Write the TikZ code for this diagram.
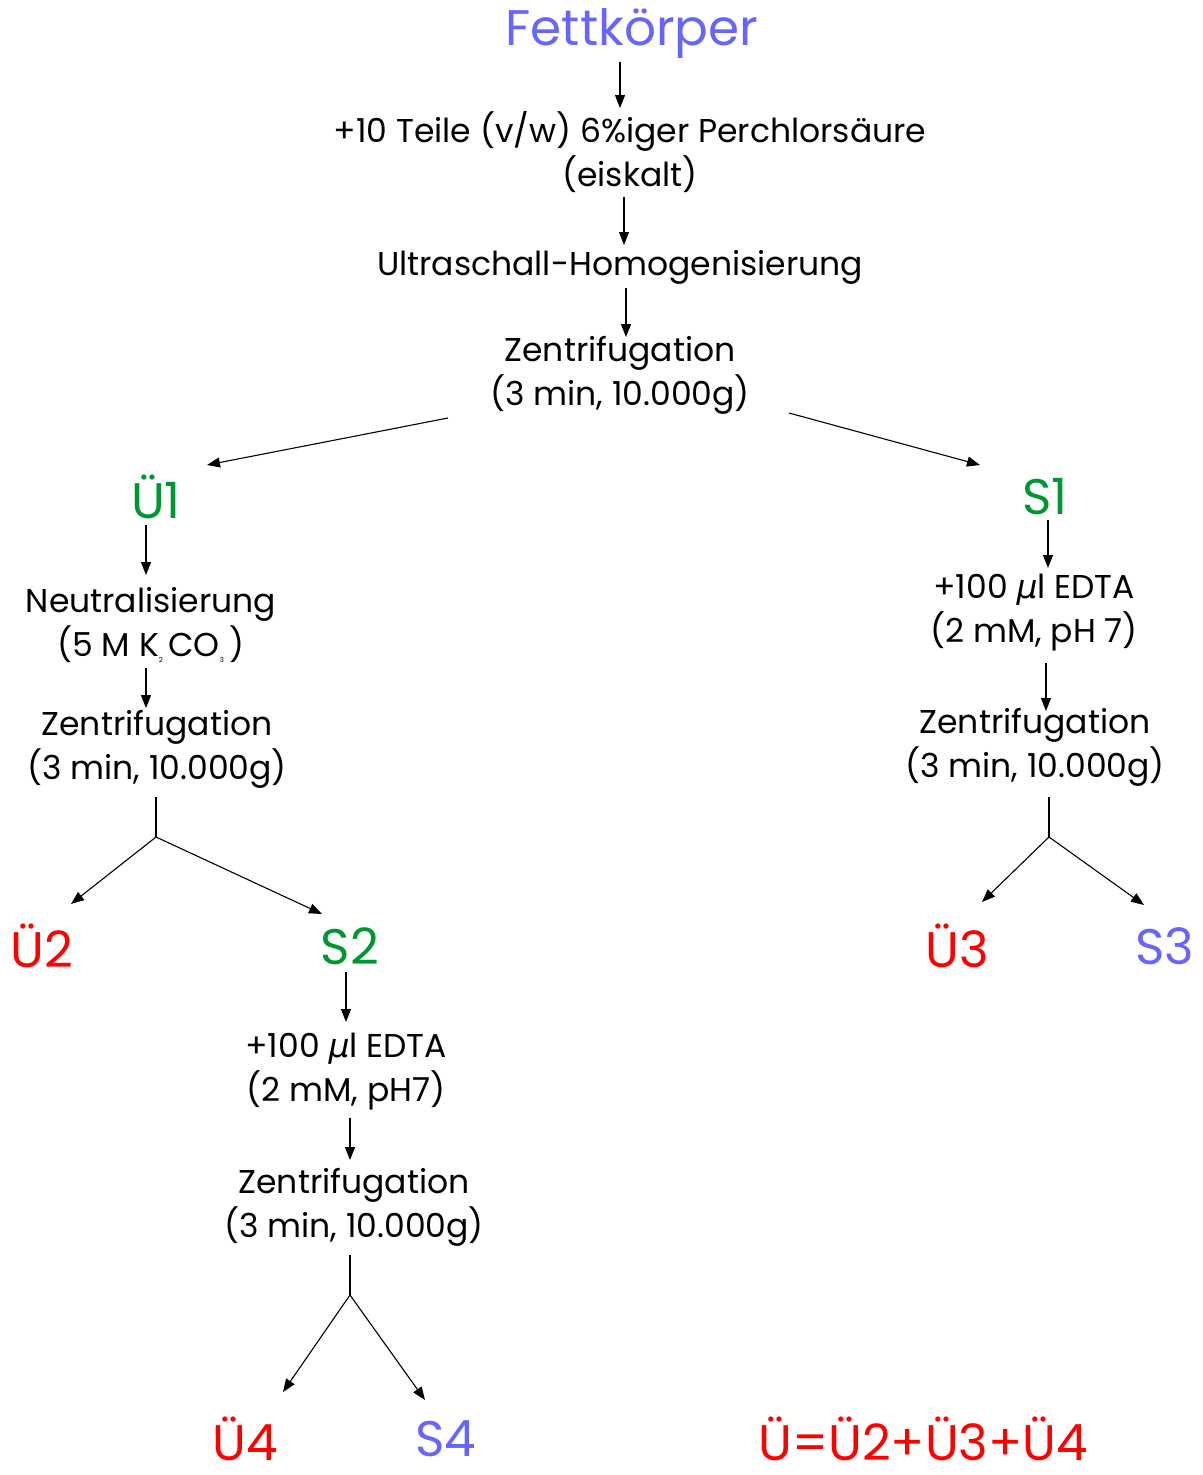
\documentclass[tikz,border=0pt]{standalone}
\usepackage{fontspec}
\setmainfont{Poppins}
\newfontfamily\greekfont{DejaVu Sans}
\usetikzlibrary{arrows.meta}
\definecolor{fblue}{RGB}{102,102,255}
\definecolor{fgreen}{RGB}{0,150,50}
\definecolor{fred}{RGB}{255,0,0}
\newcommand{\tinysub}[1]{\raisebox{-0.35ex}{\fontsize{7}{7}\selectfont #1}}
\newcommand{\mymu}{{\greekfont\itshape μ}}
\begin{document}
\begin{tikzpicture}[x=1pt,y=-1pt,
  txt/.style={inner sep=0pt,align=center,font=\fontsize{33}{44}\selectfont},
  big/.style={inner sep=0pt,font=\fontsize{50}{56}\selectfont},
  arr/.style={-{Triangle[length=13pt,width=10pt]},line width=1.1pt},
  ln/.style={line width=1.1pt}]
\useasboundingbox (0,0) rectangle (1202,1475);
% top chain
\node[big,text=fblue] (fett) at (632,33) {Fettkörper};
\node[txt] (perch) at (630,152) {+10 Teile (v/w) 6\%iger Perchlorsäure\\(eiskalt)};
\node[txt] (ultra) at (620,267) {Ultraschall-Homogenisierung};
\node[txt] (z0) at (620,375) {Zentrifugation\\(3 min, 10.000g)};
\coordinate (a1s) at (620,62); \coordinate (a1e) at (620,108);
\coordinate (a2s) at (624,197); \coordinate (a2e) at (624,245);
\coordinate (a3s) at (626,288); \coordinate (a3e) at (626,337);
\draw[arr] (a1s) -- (a1e);
\draw[arr] (a2s) -- (a2e);
\draw[arr] (a3s) -- (a3e);
% split
\node[big,text=fgreen] (u1) at (156,497) {Ü1};
\node[big,text=fgreen] (s1) at (1045,497) {S1};
\coordinate (b1s) at (448,418); \coordinate (b1e) at (207,465);
\coordinate (b2s) at (789,413); \coordinate (b2e) at (980,465);
\draw[arr] (b1s) -- (b1e);
\draw[arr] (b2s) -- (b2e);
% left branch
\node[txt] (neut) at (151,625) {Neutralisierung\\(5 M K\tinysub{2}\,CO\tinysub{3}\,)};
\node[txt] (z1) at (157,749) {Zentrifugation\\(3 min, 10.000g)};
\coordinate (c1s) at (146,525); \coordinate (c1e) at (146,575);
\coordinate (c2s) at (146,668); \coordinate (c2e) at (146,708);
\draw[arr] (c1s) -- (c1e);
\draw[arr] (c2s) -- (c2e);
\coordinate (j1t) at (156,797); \coordinate (j1) at (156,837);
\coordinate (j1a) at (71,904); \coordinate (j1b) at (322,914);
\draw[ln] (j1t) -- (j1);
\draw[arr] (j1) -- (j1a);
\draw[arr] (j1) -- (j1b);
\node[big,text=fred] (u2) at (42,946) {Ü2};
\node[big,text=fgreen] (s2) at (350,946) {S2};
\node[txt] (edta2) at (346,1072) {+100 \mymu l EDTA\\(2 mM, pH7)};
\node[txt] (z2) at (354,1207) {Zentrifugation\\(3 min, 10.000g)};
\coordinate (d1s) at (346,972); \coordinate (d1e) at (346,1022);
\coordinate (d2s) at (350,1118); \coordinate (d2e) at (350,1160);
\draw[arr] (d1s) -- (d1e);
\draw[arr] (d2s) -- (d2e);
\coordinate (j2t) at (350,1255); \coordinate (j2) at (350,1295);
\coordinate (j2a) at (283,1392); \coordinate (j2b) at (425,1400);
\draw[ln] (j2t) -- (j2);
\draw[arr] (j2) -- (j2a);
\draw[arr] (j2) -- (j2b);
\node[big,text=fred] (u4) at (245,1439) {Ü4};
\node[big,text=fblue] (s4) at (446,1439) {S4};
\node[big,text=fred] (sum) at (923,1439) {Ü=Ü2+Ü3+Ü4};
% right branch
\node[txt] (edta1) at (1034,613) {+100 \mymu l EDTA\\(2 mM, pH 7)};
\node[txt] (z3) at (1035,747) {Zentrifugation\\(3 min, 10.000g)};
\coordinate (e1s) at (1048,520); \coordinate (e1e) at (1048,568);
\coordinate (e2s) at (1046,663); \coordinate (e2e) at (1046,711);
\draw[arr] (e1s) -- (e1e);
\draw[arr] (e2s) -- (e2e);
\coordinate (j3t) at (1049,797); \coordinate (j3) at (1049,837);
\coordinate (j3a) at (982,902); \coordinate (j3b) at (1144,905);
\draw[ln] (j3t) -- (j3);
\draw[arr] (j3) -- (j3a);
\draw[arr] (j3) -- (j3b);
\node[big,text=fred] (u3) at (957,946) {Ü3};
\node[big,text=fblue] (s3) at (1165,946) {S3};
\end{tikzpicture}
\end{document}
